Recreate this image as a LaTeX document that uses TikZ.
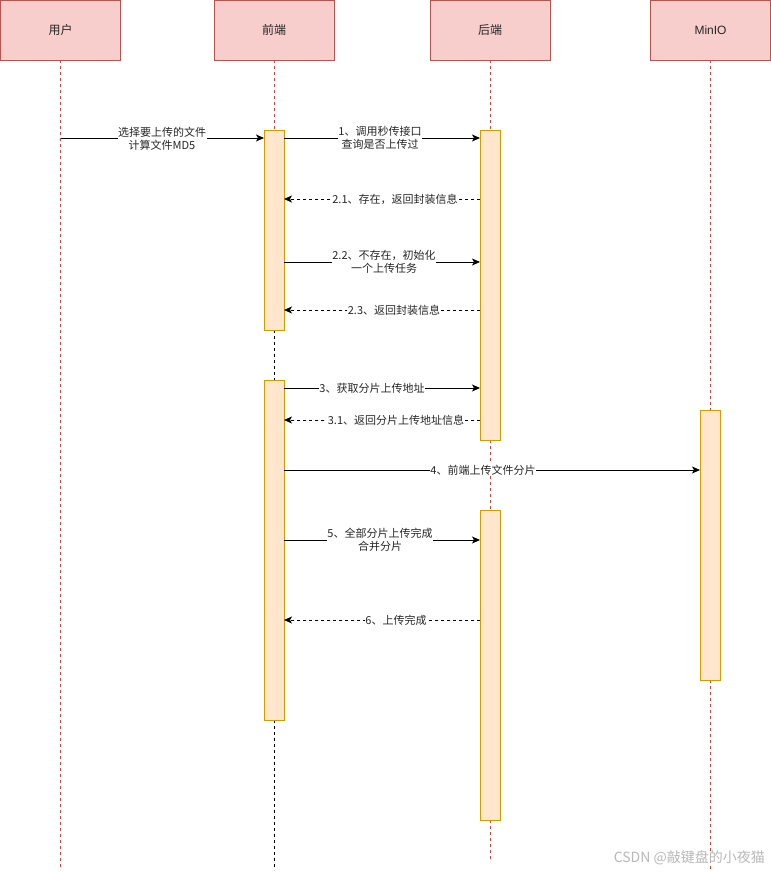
\documentclass[tikz,border=0pt]{standalone}
\usepackage{fontspec}
\setmainfont{Liberation Sans}
\newfontfamily\cjk{Noto Sans CJK SC}
\usetikzlibrary{arrows.meta}
\definecolor{hdrfill}{HTML}{F8CECC}
\definecolor{hdrline}{HTML}{B85450}
\definecolor{actfill}{HTML}{FFE6CC}
\definecolor{actline}{HTML}{D79B00}
\definecolor{lifered}{HTML}{C8473F}
\tikzset{
  hdr/.style={draw=hdrline, fill=hdrfill, line width=0.8pt, minimum width=120pt, minimum height=60pt, inner sep=0pt, font=\cjk\fontsize{12}{14}\selectfont, text=black!85},
  act/.style={draw=actline, fill=actfill, line width=0.9pt},
  life/.style={draw=lifered, dash pattern=on 3pt off 3pt, line width=0.7pt},
  lifeb/.style={draw=black, dash pattern=on 3pt off 3pt, line width=0.8pt},
  msg/.style={draw=black, line width=0.8pt, -{Stealth[length=8pt,width=7pt,inset=2pt]}},
  ret/.style={msg, dash pattern=on 3pt off 3pt},
  lbl/.style={fill=white, inner sep=0.5pt, font=\cjk\fontsize{11}{13}\selectfont, align=center, text=black!85}
}
\begin{document}
\begin{tikzpicture}[x=1pt,y=-1pt]
\useasboundingbox (0,0) rectangle (771,873);
% lifelines
\draw[life] (60.5,60) -- (60.5,870);
\draw[life] (274,60) -- (274,130);
\draw[lifeb] (274,330) -- (274,380);
\draw[lifeb] (274,720) -- (274,870);
\draw[life] (490,60) -- (490,130);
\draw[life] (490,440) -- (490,510);
\draw[life] (490,820) -- (490,860);
\draw[life] (710,60) -- (710,410);
\draw[life] (710,680) -- (710,870);
% headers
\node[hdr] (user) at (60.5,30) {用户};
\node[hdr] (fe) at (274,30) {前端};
\node[hdr] (be) at (490,30) {后端};
\node[hdr, font=\fontsize{12}{14}\selectfont] (minio) at (710.5,30) {MinIO};
% activations
\draw[act] (264,130) rectangle (284,330);
\draw[act] (264,380) rectangle (284,720);
\draw[act] (480,130) rectangle (500,440);
\draw[act] (480,510) rectangle (500,820);
\draw[act] (700,410) rectangle (720,680);
% anchor coordinates
\coordinate (u1) at (60.5,138);
\coordinate (f1) at (264,138);
\coordinate (f1r) at (284,138);
\coordinate (b1) at (480,138);
\coordinate (b21) at (480,199);
\coordinate (f21) at (284,199);
\coordinate (f22) at (284,262);
\coordinate (b22) at (480,262);
\coordinate (b23) at (480,310);
\coordinate (f23) at (284,310);
\coordinate (f3) at (284,388);
\coordinate (b3) at (480,388);
\coordinate (b31) at (480,420);
\coordinate (f31) at (284,420);
\coordinate (f4) at (284,470);
\coordinate (m4) at (700,470);
\coordinate (f5) at (284,540);
\coordinate (b5) at (480,540);
\coordinate (b6) at (480,620);
\coordinate (f6) at (284,620);
% messages
\draw[msg] (u1) -- (f1);
\node[lbl] (l0) at (162,139) {选择要上传的文件\\计算文件MD5};
\draw[msg] (f1r) -- (b1);
\node[lbl] (l1) at (380,138) {1、调用秒传接口\\查询是否上传过};
\draw[ret] (b21) -- (f21);
\node[lbl] (l21) at (395,199) {2.1、存在，返回封装信息};
\draw[msg] (f22) -- (b22);
\node[lbl] (l22) at (384,262) {2.2、不存在，初始化\\一个上传任务};
\draw[ret] (b23) -- (f23);
\node[lbl] (l23) at (394,310) {2.3、返回封装信息};
\draw[msg] (f3) -- (b3);
\node[lbl] (l3) at (372,388) {3、获取分片上传地址};
\draw[ret] (b31) -- (f31);
\node[lbl] (l31) at (396,420) {3.1、返回分片上传地址信息};
\draw[msg] (f4) -- (m4);
\node[lbl] (l4) at (483,470) {4、前端上传文件分片};
\draw[msg] (f5) -- (b5);
\node[lbl] (l5) at (380,540) {5、全部分片上传完成\\合并分片};
\draw[ret] (b6) -- (f6);
\node[lbl] (l6) at (396,620) {6、上传完成};
% watermark
\node[font=\cjk\fontsize{14}{16}\selectfont, text=black!28, anchor=east, inner sep=0pt] (wm) at (765,858) {CSDN @敲键盘的小夜猫};
\end{tikzpicture}
\end{document}
